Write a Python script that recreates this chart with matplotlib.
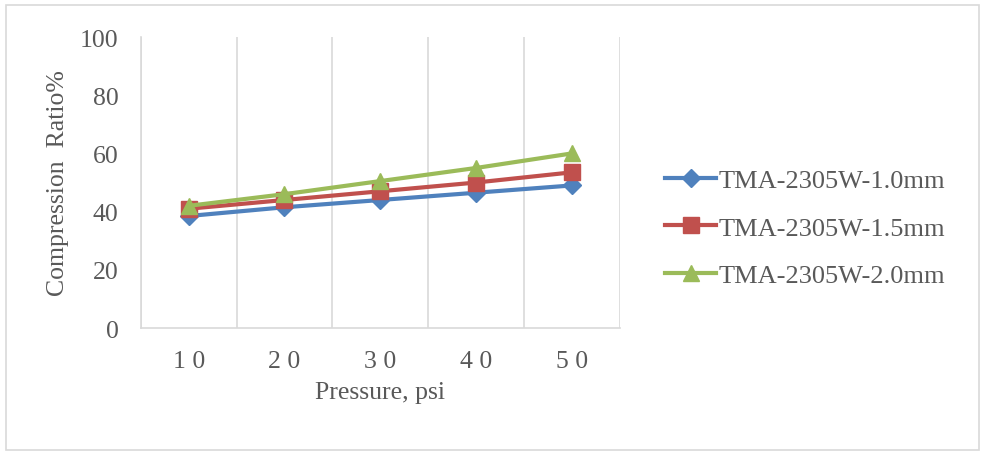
import numpy as np
import matplotlib.pyplot as plt
from matplotlib.patches import Rectangle

pressure = [10, 20, 30, 40, 50]
tick_labels = ["1 0", "2 0", "3 0", "4 0", "5 0"]
ratio_10 = [38.5, 41.5, 44.0, 46.5, 49.0]
ratio_15 = [41.0, 44.0, 47.0, 50.0, 53.5]
ratio_20 = [42.0, 46.0, 50.5, 55.0, 60.0]
series_names = ["TMA-2305W-1.0mm", "TMA-2305W-1.5mm", "TMA-2305W-2.0mm"]

plt.rcParams['font.family'] = ['Liberation Serif', 'DejaVu Serif']
grey = '#595959'
fs = 18.5

fig = plt.figure(figsize=(9.85, 4.56), dpi=100)
ax = fig.add_axes([0.143, 0.2785, 0.486, 0.638])

x = np.arange(1, len(pressure) + 1)
ax.plot(x, ratio_10, color='#4F81BD', lw=3, marker='D', ms=9, label=series_names[0])
ax.plot(x, ratio_15, color='#C0504D', lw=3, marker='s', ms=11, label=series_names[1])
ax.plot(x, ratio_20, color='#9BBB59', lw=3, marker='^', ms=12, label=series_names[2])

ax.set_xlim(0.5, len(pressure) + 0.5)
ax.set_ylim(0, 100)
ax.set_yticks(range(0, 101, 20))
ax.set_xticks(x)
ax.set_xticklabels(tick_labels)
ax.set_xticks(np.arange(0.5, len(pressure) + 1), minor=True)
ax.grid(True, which='minor', axis='x', color='#D9D9D9', lw=1.2)
ax.tick_params(which='both', length=0, labelsize=fs, colors=grey)
ax.tick_params(axis='y', pad=16)
ax.tick_params(axis='x', pad=16)
for s in ['top', 'right']:
    ax.spines[s].set_visible(False)
for s in ['left', 'bottom']:
    ax.spines[s].set_color('#D9D9D9')
    ax.spines[s].set_linewidth(1.2)

ax.set_xlabel("Pressure, psi", fontsize=fs, color=grey, labelpad=6)
ax.set_ylabel("Compression  Ratio%", fontsize=fs, color=grey, labelpad=8)

leg = ax.legend(loc='center left', bbox_to_anchor=(0.675, 0.498), bbox_transform=fig.transFigure,
                frameon=False, fontsize=19, handlelength=1.95, handletextpad=0.1,
                labelspacing=0.92, borderaxespad=0, borderpad=0)
for t in leg.get_texts():
    t.set_color(grey)

fig.patches.append(Rectangle((0.006, 0.012), 0.988, 0.975, transform=fig.transFigure,
                             fill=False, edgecolor='#D9D9D9', lw=1.2))

plt.savefig('out.png', dpi=100)
